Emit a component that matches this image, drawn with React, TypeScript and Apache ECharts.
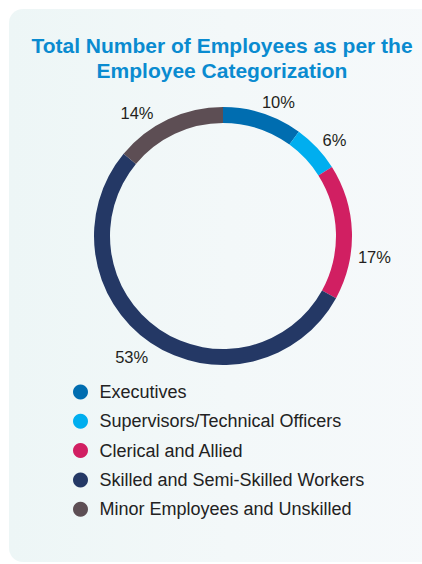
import React, { useEffect, useRef } from "react";
import * as echarts from "echarts";

const categories = [
  "Executives",
  "Supervisors/Technical Officers",
  "Clerical and Allied",
  "Skilled and Semi-Skilled Workers",
  "Minor Employees and Unskilled",
];
const shares = [10, 6, 17, 53, 14];
const colors = ["#006db0", "#00aeef", "#d11f62", "#243865", "#5d4e54"];
// small label nudges to mimic the reference placement
const labelNudges: [number, number][] = [
  [-5, 1],
  [-4, 1],
  [-7, 25],
  [5, 4],
  [-9, 5],
];

const FONT = "'Liberation Sans', Arial, Helvetica, sans-serif";

export default function App() {
  const ref = useRef<HTMLDivElement>(null);
  useEffect(() => {
    if (!ref.current) return;
    const chart = echarts.init(ref.current, undefined, { renderer: "svg" });
    chart.setOption({
      animation: false,
      title: {
        text: "Total Number of Employees as per the\nEmployee Categorization",
        left: "center",
        top: 28,
        textStyle: {
          fontFamily: FONT,
          fontSize: 21,
          fontWeight: "bold",
          color: "#0a8bd0",
          lineHeight: 25,
        },
      },
      legend: {
        orient: "vertical",
        left: 68,
        top: 378,
        icon: "circle",
        itemWidth: 28,
        itemHeight: 15,
        itemGap: 11.3,
        selectedMode: false,
        data: categories,
        textStyle: { fontFamily: FONT, fontSize: 18, color: "#222222" },
      },
      series: [
        {
          type: "pie",
          center: [223, 236],
          radius: [113, 129],
          startAngle: 90,
          clockwise: true,
          avoidLabelOverlap: false,
          label: {
            show: true,
            position: "outside",
            formatter: "{c}%",
            fontFamily: FONT,
            fontSize: 16.5,
            color: "#231f20",
            distanceToLabelLine: 0,
          },
          labelLine: { show: false, length: 13, length2: 0 },
          labelLayout: (p: any) => {
            const n = labelNudges[p.dataIndex] || [0, 0];
            return { dx: n[0], dy: n[1] };
          },
          emphasis: { disabled: true },
          data: categories.map((name, i) => ({
            name,
            value: shares[i],
            itemStyle: { color: colors[i] },
          })),
        },
      ],
    });
    return () => chart.dispose();
  }, []);

  return (
    <div
      style={{
        position: "fixed",
        left: 0,
        top: 0,
        width: 422,
        height: 564,
        overflow: "hidden",
        background: "#ffffff",
      }}
    >
      <div
        style={{
          position: "absolute",
          left: 9,
          top: 9,
          width: 440,
          height: 553,
          borderRadius: 14,
          background: "linear-gradient(90deg, #edf6f6 0%, #f3f8f9 50%, #f6f9fb 100%)",
        }}
      />
      <div
        ref={ref}
        style={{ position: "absolute", left: 0, top: 0, width: 444, height: 564 }}
      />
    </div>
  );
}
